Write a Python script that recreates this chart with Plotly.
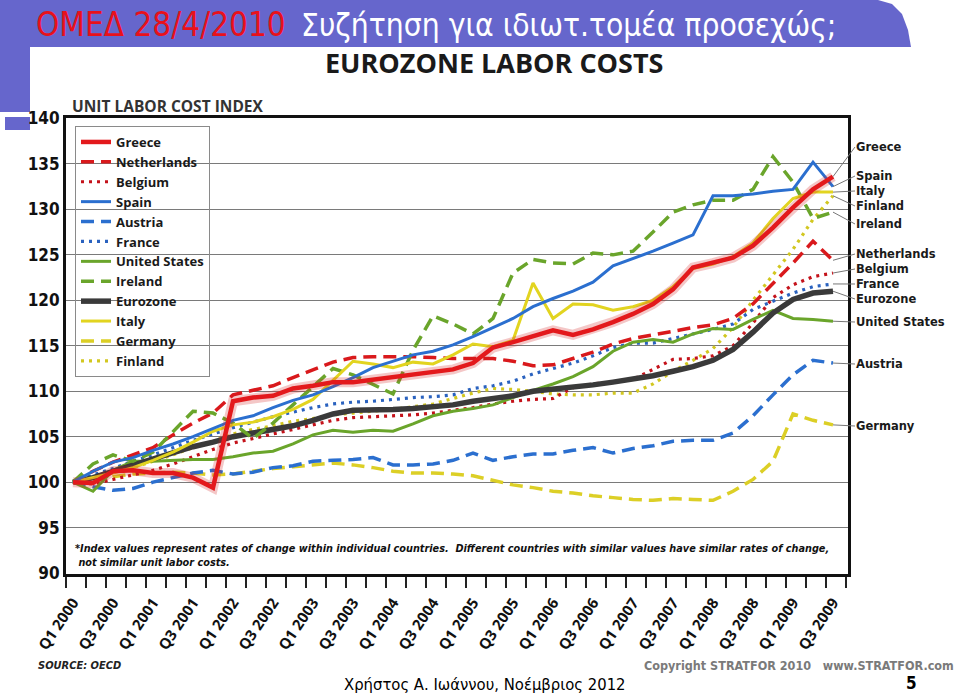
import plotly.graph_objects as go

# ---------------- data ----------------
tick_labels = ["Q1 2000", "Q3 2000", "Q1 2001", "Q3 2001", "Q1 2002", "Q3 2002",
               "Q1 2003", "Q3 2003", "Q1 2004", "Q3 2004", "Q1 2005", "Q3 2005",
               "Q1 2006", "Q3 2006", "Q1 2007", "Q3 2007", "Q1 2008", "Q3 2008",
               "Q1 2009", "Q3 2009"]

greece = [100.0, 99.9, 101.2, 101.3, 101.0, 101.0, 100.5, 99.4, 108.9, 109.3,
          109.5, 110.3, 110.6, 111.0, 111.0, 111.3, 111.6, 111.9, 112.1, 112.4,
          113.1, 114.8, 115.4, 116.0, 116.7, 116.2, 116.8, 117.6, 118.5, 119.6,
          121.2, 123.6, 124.1, 124.7, 126.0, 128.0, 130.2, 132.2, 133.6]
netherlands = [100.0, 101.2, 102.2, 103.0, 103.8, 105.2, 106.5, 107.6, 109.6, 110.1,
               110.6, 111.5, 112.4, 113.2, 113.7, 113.8, 113.8, 113.8, 113.7, 113.6,
               113.6, 113.6, 113.3, 112.8, 112.9, 113.6, 114.3, 115.2, 115.8, 116.2,
               116.6, 117.0, 117.3, 118.0, 119.6, 121.8, 124.1, 126.5, 124.4]
belgium = [100.0, 99.8, 100.3, 100.8, 101.3, 102.0, 102.8, 103.6, 104.3, 104.8,
           105.3, 105.8, 106.3, 106.8, 107.1, 107.2, 107.3, 107.4, 107.6, 107.9,
           108.2, 108.6, 108.9, 109.1, 109.2, 110.4, 110.8, 111.0, 111.3, 112.4,
           113.5, 113.6, 113.9, 115.0, 117.5, 120.3, 121.7, 122.6, 123.0]
spain = [100.0, 101.2, 102.2, 102.7, 103.5, 104.2, 105.0, 105.9, 106.8, 107.3,
         108.2, 109.0, 109.6, 110.5, 111.5, 112.6, 113.3, 114.0, 114.4, 115.1,
         116.0, 117.0, 118.0, 119.3, 120.2, 121.0, 122.0, 123.8, 124.6, 125.4,
         126.3, 127.2, 131.5, 131.5, 131.7, 132.0, 132.2, 135.2, 132.5]
austria = [100.0, 99.5, 99.1, 99.3, 100.0, 100.5, 101.0, 101.3, 100.9, 101.1,
           101.6, 101.8, 102.3, 102.4, 102.5, 102.7, 101.9, 101.9, 102.0, 102.4,
           103.2, 102.4, 102.8, 103.1, 103.1, 103.5, 103.8, 103.2, 103.7, 104.0,
           104.5, 104.6, 104.6, 105.4, 107.3, 109.6, 111.8, 113.4, 113.1]
france = [100.0, 100.8, 101.5, 102.3, 103.0, 103.8, 104.6, 105.3, 106.0, 106.6,
          107.2, 107.7, 108.2, 108.6, 108.8, 108.9, 109.1, 109.3, 109.4, 109.6,
          110.3, 110.6, 111.1, 111.9, 112.5, 113.1, 113.9, 114.8, 115.3, 115.3,
          115.8, 116.3, 116.8, 117.4, 119.0, 119.9, 120.8, 121.5, 121.8]
united_states = [100.0, 99.0, 101.3, 102.3, 102.3, 102.4, 102.5, 102.5, 102.8, 103.2,
                 103.4, 104.2, 105.2, 105.7, 105.5, 105.7, 105.6, 106.4, 107.3, 107.8,
                 108.1, 108.5, 109.3, 110.1, 110.8, 111.6, 112.7, 114.4, 115.4, 115.7,
                 115.4, 116.3, 116.9, 116.8, 117.9, 118.9, 118.0, 117.9, 117.7]
ireland = [100.0, 102.0, 103.0, 102.3, 103.3, 105.5, 107.8, 107.6, 106.5, 104.8,
           106.5, 108.5, 110.5, 112.5, 111.8, 110.8, 109.7, 114.5, 118.3, 117.4,
           116.3, 118.0, 123.0, 124.5, 124.1, 124.0, 125.2, 125.0, 125.4, 127.5,
           129.7, 130.5, 131.0, 131.0, 132.2, 135.8, 133.0, 129.0, 129.7]
eurozone = [100.0, 100.5, 101.2, 101.9, 102.6, 103.3, 103.9, 104.4, 105.0, 105.4,
            105.8, 106.2, 106.8, 107.5, 107.9, 107.9, 108.0, 108.1, 108.3, 108.5,
            108.9, 109.2, 109.5, 110.0, 110.2, 110.4, 110.7, 111.0, 111.3, 111.7,
            112.2, 112.7, 113.4, 114.6, 116.5, 118.6, 120.1, 120.8, 121.0]
italy = [100.0, 100.5, 101.0, 101.6, 102.4, 103.3, 104.4, 105.6, 106.3, 106.6,
         107.2, 108.0, 109.1, 111.2, 113.3, 113.0, 112.6, 113.2, 113.0, 114.0,
         115.2, 114.9, 115.6, 121.9, 118.0, 119.6, 119.5, 118.9, 119.3, 120.0,
         121.5, 123.5, 124.0, 124.8, 126.3, 129.0, 131.2, 131.9, 131.9]
germany = [100.0, 100.2, 100.6, 100.9, 101.0, 101.1, 101.0, 100.8, 100.9, 101.2,
           101.5, 101.7, 101.9, 102.1, 101.9, 101.6, 101.2, 101.0, 101.0, 100.9,
           100.7, 100.2, 99.7, 99.4, 99.0, 98.8, 98.5, 98.3, 98.1, 98.0,
           98.2, 98.1, 98.0, 99.0, 100.3, 102.3, 107.5, 106.8, 106.3]
finland = [100.0, 100.6, 101.3, 101.6, 102.3, 103.0, 103.8, 104.5, 105.3, 105.8,
           106.2, 106.7, 107.0, 107.4, 107.6, 107.8, 108.0, 108.3, 108.6, 109.2,
           109.8, 110.3, 110.2, 110.0, 109.7, 109.6, 109.6, 109.8, 109.8, 110.8,
           112.2, 113.4, 114.7, 117.0, 120.0, 122.8, 125.6, 128.9, 131.5]

# ---------------- geometry / style ----------------
W, H = 960, 694
L, R, T, B = 66, 848, 118, 574
XR = [-0.35, 38.75]
YR = [89.9, 140.05]


def pxx(p):
    return (p - L) / (R - L)


def pxy(p):
    return (B - p) / (B - T)


def yval(p):
    return YR[0] + (B - p) / (B - T) * (YR[1] - YR[0])


NARROW = "DejaVu Sans Condensed, Liberation Sans Narrow, sans-serif"
BOLD = "Open Sans, Liberation Sans, sans-serif"
WIDE = "DejaVu Sans, Open Sans, sans-serif"

DASH = "13px,7px"
DOT = "3px,5px"

# name, data, color, width, dash, legend rank
series = [
    ("Germany", germany, "#dccf26", 3.5, DASH, 11),
    ("Austria", austria, "#2b6fcf", 3.5, DASH, 5),
    ("Finland", finland, "#d2c720", 3.2, DOT, 12),
    ("Belgium", belgium, "#c4121a", 3.2, DOT, 3),
    ("France", france, "#2a62bf", 3.2, DOT, 6),
    ("United States", united_states, "#6aa52b", 3.0, "solid", 7),
    ("Eurozone", eurozone, "#3a3a3a", 5.5, "solid", 9),
    ("Netherlands", netherlands, "#d9191c", 3.5, DASH, 2),
    ("Ireland", ireland, "#6aa52b", 3.5, DASH, 8),
    ("Italy", italy, "#e2d420", 3.0, "solid", 10),
    ("Spain", spain, "#2b6fcf", 3.0, "solid", 4),
    ("Greece", greece, "#e3191c", 4.5, "solid", 1),
]

fig = go.Figure()
xs = list(range(len(greece)))

for name, data, color, width, dash, rank in series:
    if name == "Greece":
        fig.add_trace(go.Scatter(x=xs, y=data, mode="lines", showlegend=False,
                                 hoverinfo="skip",
                                 line=dict(color="rgba(210,30,30,0.25)", width=10)))
    fig.add_trace(go.Scatter(x=xs, y=data, mode="lines", name=name,
                             legendrank=rank,
                             line=dict(color=color, width=width, dash=dash)))

# right-side labels with leader lines
label_px = {"Greece": 147, "Spain": 176, "Italy": 191, "Finland": 206,
            "Ireland": 224, "Netherlands": 254, "Belgium": 269, "France": 284,
            "Eurozone": 299, "United States": 322, "Austria": 364, "Germany": 426}
annotations = []
for name, data, color, width, dash, rank in series:
    annotations.append(dict(
        x=len(data) - 1, y=data[-1], xref="x", yref="y",
        ax=XR[0] + (855 - L) / 20.0, ay=yval(label_px[name]),
        axref="x", ayref="y", text=name, showarrow=True, arrowhead=0,
        arrowwidth=1, arrowcolor="#777", standoff=0, startstandoff=0,
        xanchor="left", yanchor="middle", borderpad=0,
        font=dict(family=WIDE, size=11.5, color="#1a1a1a", weight="bold")))


def txt(text, x, y, size, color="#000", family=BOLD, weight="normal",
        xanchor="left", style="normal", align="left"):
    annotations.append(dict(text=text, x=pxx(x), y=pxy(y), xref="paper",
                            yref="paper", showarrow=False, xanchor=xanchor,
                            yanchor="middle", align=align, borderpad=0,
                            font=dict(family=family, size=size, color=color,
                                      weight=weight, style=style)))


txt("ΟΜΕΔ 28/4/2010", 35, 25, 33, "#e8111b", NARROW)
txt("Συζήτηση για ιδιωτ.τομέα προσεχώς;", 300, 25, 31.5, "#ffffff", NARROW)
txt("EUROZONE LABOR COSTS", 494, 63, 27, "#1a1a1a", BOLD, "bold", "center")
txt("UNIT LABOR COST INDEX", 71, 106, 15.5, "#333333", BOLD, "bold")
txt("*Index values represent rates of change within individual countries.  "
    "Different countries with similar values have similar rates of change,"
    "<br> not similar unit labor costs.", 74, 555, 10.8, "#111",
    NARROW, "bold", style="italic")
txt("SOURCE: OECD", 37, 665, 11, "#222", NARROW, "bold", style="italic")
txt("Copyright STRATFOR 2010   www.STRATFOR.com", 955, 665, 12.5, "#7a7a7a",
    NARROW, "bold", "right")
txt("Χρήστος Α. Ιωάννου, Νοέμβριος 2012", 485, 684, 16.5, "#000", NARROW,
    "normal", "center")
txt("5", 911, 683, 17, "#000", NARROW, "bold", "center")


def path(points):
    return "M " + " L ".join(f"{pxx(a):.5f},{pxy(b):.5f}" for a, b in points) + " Z"


BAR = "#6666cc"
shapes = [
    dict(type="path", xref="paper", yref="paper", layer="below",
         fillcolor=BAR, line=dict(width=0),
         path=path([(0, 0), (878, 0), (892, 4), (902, 14), (908, 30), (911, 47), (0, 47)])),
    dict(type="rect", xref="paper", yref="paper", layer="below",
         x0=pxx(0), x1=pxx(30), y0=pxy(47), y1=pxy(112),
         fillcolor=BAR, line=dict(width=0)),
    dict(type="rect", xref="paper", yref="paper", layer="below",
         x0=pxx(5), x1=pxx(30), y0=pxy(117), y1=pxy(130),
         fillcolor=BAR, line=dict(width=0)),
]

fig.update_layout(
    width=W, height=H,
    margin=dict(l=L, r=W - R, t=T, b=H - B, autoexpand=False),
    paper_bgcolor="white", plot_bgcolor="white",
    showlegend=True,
    legend=dict(x=pxx(75), y=pxy(126), xanchor="left", yanchor="top",
                bgcolor="rgba(0,0,0,0)", bordercolor="#8a8a8a", borderwidth=1,
                tracegroupgap=0, itemwidth=30,
                font=dict(family=BOLD, size=13, color="#1a1a1a", weight="bold")),
    xaxis=dict(range=XR, showgrid=False, zeroline=False,
               showline=True, mirror=True, linecolor="#111", linewidth=3,
               tickmode="array", tickvals=list(range(0, 39, 2)),
               ticktext=tick_labels, tickangle=-56,
               ticks="outside", ticklen=11, tickcolor="rgba(0,0,0,0)",
               tickfont=dict(family=BOLD, size=15, color="#111", weight="bold"),
               minor=dict(ticks="outside", ticklen=11, tickwidth=1.5,
                          tickcolor="#222", tick0=-0.35, dtick=1)),
    yaxis=dict(range=YR, tickmode="array", tickvals=list(range(90, 141, 5)),
               showgrid=True, gridcolor="#7a7a7a", gridwidth=1, zeroline=False,
               showline=True, mirror=True, linecolor="#111", linewidth=3,
               ticks="", tickfont=dict(family=NARROW, size=17, color="#111",
                                       weight="bold")),
    annotations=annotations,
    shapes=shapes,
)

fig.write_html("out.html",
               config={"displayModeBar": False},
               post_script="document.body.style.margin='0';"
                           "document.body.style.overflow='hidden';")
